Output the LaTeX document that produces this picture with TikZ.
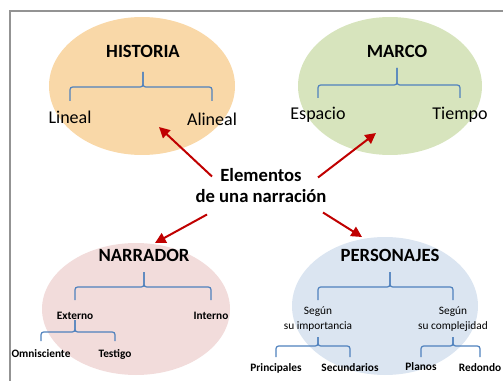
\documentclass[tikz,border=0pt]{standalone}
\usepackage{fontspec}
\setmainfont{Carlito}
\usetikzlibrary{shapes.geometric,arrows.meta,calc}

\definecolor{histfill}{RGB}{249,216,168}
\definecolor{marcofill}{RGB}{215,228,189}
\definecolor{narrfill}{RGB}{242,220,219}
\definecolor{persfill}{RGB}{219,229,241}
\definecolor{llavecol}{RGB}{79,129,189}
\definecolor{flechacol}{RGB}{192,0,0}

\tikzset{every picture/.style={line width=0.75pt}}
\tikzset{
  elipse/.style={ellipse, draw=none, inner sep=0pt},
  titulo/.style={font=\bfseries\fontsize{14}{15.75}\selectfont},
  hoja/.style={font=\fontsize{13.5}{16}\selectfont},
  chica/.style={font=\bfseries\fontsize{8.5}{10}\selectfont},
  segun/.style={font=\fontsize{8.5}{11.25}\selectfont, align=center},
  llave/.style={draw=llavecol, line width=0.9pt, rounded corners=2pt},
  flecha/.style={draw=flechacol, line width=1.5pt, -{Triangle[length=8pt,width=8pt]}},
  marcogris/.style={draw=gray!85, line width=1.5pt}
}

% brace: tip node, left child, right child, y of the bar, leg, tip
\newcommand{\llave}[6]{%
  \draw[llave] ($(#2 |- 0,#4)+(0,#5)$) -- (#2 |- 0,#4) -- (#1 |- 0,#4) -- ++(0,-#6);
  \draw[llave] ($(#3 |- 0,#4)+(0,#5)$) -- (#3 |- 0,#4) -- (#1 |- 0,#4) -- ++(0,-#6);}

\begin{document}
\begin{tikzpicture}[x=0.75pt,y=0.75pt,yscale=-1,xscale=1]
\useasboundingbox (0,0) rectangle (503,381);

%Frame
\draw[marcogris] (10,385) -- (10,11) -- (510,11);

%Ellipses
\node[elipse, fill=histfill, minimum width=139.5pt, minimum height=103.5pt] (hist) at (142,86) {};
\node[elipse, fill=marcofill, minimum width=138pt, minimum height=103.5pt] (marco) at (390,86) {};
\node[elipse, fill=narrfill, minimum width=141pt, minimum height=99pt] (narr) at (136,309) {};
\node[elipse, fill=persfill, minimum width=139.5pt, minimum height=103.5pt] (pers) at (385,306) {};

% Text Node
\node[titulo, align=center] (elem) at (261,185.5) {Elementos\\de una narración};

% HISTORIA
\node[titulo, anchor=base] (hist-t) at (143,58) {HISTORIA};
\node[hoja, anchor=base] (lin) at (70,124) {Lineal};
\node[hoja, anchor=base] (alin) at (212,126) {Alineal};
\llave{hist-t}{lin}{alin}{87}{14}{15}

% MARCO
\node[titulo, anchor=base] (marco-t) at (397,58) {MARCO};
\node[hoja, anchor=base] (esp) at (318,120) {Espacio};
\node[hoja, anchor=base] (tiem) at (460,120) {Tiempo};
\llave{marco-t}{esp}{tiem}{85}{13}{17}

% NARRADOR
\node[titulo, anchor=base] (narr-t) at (144,261) {NARRADOR};
\node[chica, anchor=base] (ext) at (75,319) {Externo};
\node[chica, anchor=base] (int) at (211,319) {Interno};
\node[chica, anchor=base] (omn) at (41,357) {Omnisciente};
\node[chica, anchor=base] (test) at (115,357) {Testigo};
\llave{narr-t}{ext}{int}{287}{13}{15}
\llave{ext}{omn}{test}{332}{9}{12}

% PERSONAJES
\node[titulo, anchor=base] (pers-t) at (390,261) {PERSONAJES};
\node[segun] (imp) at (318,319.5) {Según\\su importancia};
\node[segun] (comp) at (453,319.5) {Según\\su complejidad};
\node[chica, anchor=base] (prin) at (276,371) {Principales};
\node[chica, anchor=base] (secu) at (350,371) {Secundarios};
\node[chica, anchor=base] (plan) at (421,370) {Planos};
\node[chica, anchor=base] (redo) at (480,371) {Redondo};
\llave{pers-t}{imp}{comp}{287}{13}{15}
\llave{imp}{prin}{secu}{346}{11}{9}
\llave{comp}{plan}{redo}{346}{11}{9}

%Arrows
\draw[flecha] ([shift={(-49,-9)}]elem.center) -- ([shift={(17,41)}]hist.center);
\draw[flecha] ([shift={(57,-8)}]elem.center) -- ([shift={(-14,47)}]marco.center);
\draw[flecha] ([shift={(-54,29)}]elem.center) -- ([shift={(19,-66)}]narr.center);
\draw[flecha] ([shift={(62,27)}]elem.center) -- ([shift={(-23,-69)}]pers.center);

\end{tikzpicture}
\end{document}
